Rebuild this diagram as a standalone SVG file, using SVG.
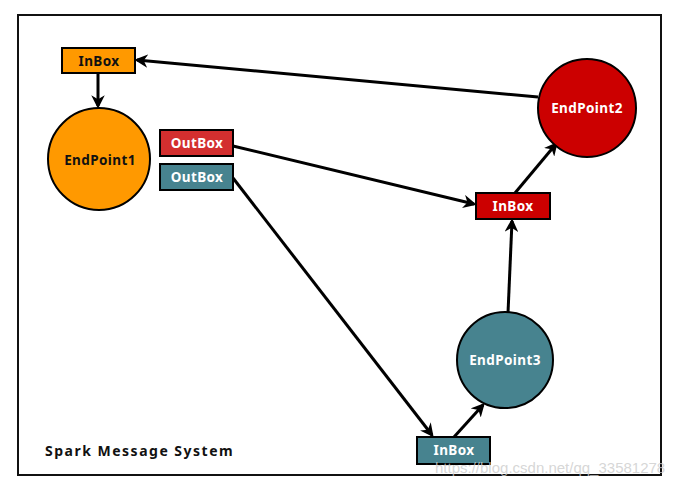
<svg xmlns="http://www.w3.org/2000/svg" width="688" height="482" viewBox="0 0 688 482">
<style>
.box{stroke:#000;stroke-width:2}
.lbl{font-family:"Noto Sans","DejaVu Sans",sans-serif;font-weight:bold;font-size:13.5px;letter-spacing:0.4px;text-anchor:middle;dominant-baseline:central}
.w{fill:#fff}.d{fill:#111}
.conn line{stroke:#000;stroke-width:3;marker-end:url(#ah)}
</style>
<defs>
<marker id="ah" viewBox="0 0 10 10" refX="8" refY="5" markerWidth="4.5" markerHeight="4.5" orient="auto" markerUnits="strokeWidth">
<path d="M0,0 L10,5 L0,10 L3,5 Z" fill="#000"/>
</marker>
</defs>
<rect width="688" height="482" fill="#fff"/>
<rect id="frame" x="18" y="15" width="643" height="460" fill="none" stroke="#111" stroke-width="2"/>
<g class="conn">
<line x1="98" y1="73" x2="98" y2="106"/>
<line x1="538" y1="97" x2="137" y2="60"/>
<line x1="233" y1="146" x2="474" y2="204"/>
<line x1="233" y1="178" x2="432" y2="435"/>
<line x1="515" y1="193" x2="556" y2="144"/>
<line x1="454" y1="437" x2="483" y2="405"/>
<line x1="508" y1="313" x2="512" y2="221"/>
</g>
<g id="inbox1"><rect class="box" x="62" y="48" width="73" height="25" fill="#FF9900"/><text class="lbl d" x="99" y="60.5">InBox</text></g>
<g id="endpoint1"><circle class="box" cx="99" cy="159" r="51" fill="#FF9900"/><text class="lbl d" x="100" y="160">EndPoint1</text></g>
<g id="outbox1"><rect class="box" x="160" y="130" width="73" height="26" fill="#D32F2F"/><text class="lbl w" x="197" y="143">OutBox</text></g>
<g id="outbox2"><rect class="box" x="160" y="164" width="73" height="26" fill="#47838F"/><text class="lbl w" x="197" y="177">OutBox</text></g>
<g id="endpoint2"><circle class="box" cx="587" cy="108" r="49" fill="#CC0000"/><text class="lbl w" x="587" y="108">EndPoint2</text></g>
<g id="inbox2"><rect class="box" x="476" y="193" width="74" height="26" fill="#CC0000"/><text class="lbl w" x="513" y="206">InBox</text></g>
<g id="endpoint3"><circle class="box" cx="505" cy="360" r="48" fill="#47838F"/><text class="lbl w" x="505" y="360">EndPoint3</text></g>
<g id="inbox3"><rect class="box" x="417" y="437" width="73" height="27" fill="#47838F"/><text class="lbl w" x="454" y="449.5">InBox</text></g>
<text x="45" y="450" font-family="'Noto Sans','DejaVu Sans',sans-serif" font-weight="bold" font-size="14" letter-spacing="1.5" fill="#111" dominant-baseline="central">Spark Message System</text>
<text x="435" y="467" font-family="'Liberation Sans',Arial,sans-serif" font-size="15" fill="#ccc" fill-opacity="0.8" dominant-baseline="central">https://blog.csdn.net/qq_33581278</text>
</svg>
